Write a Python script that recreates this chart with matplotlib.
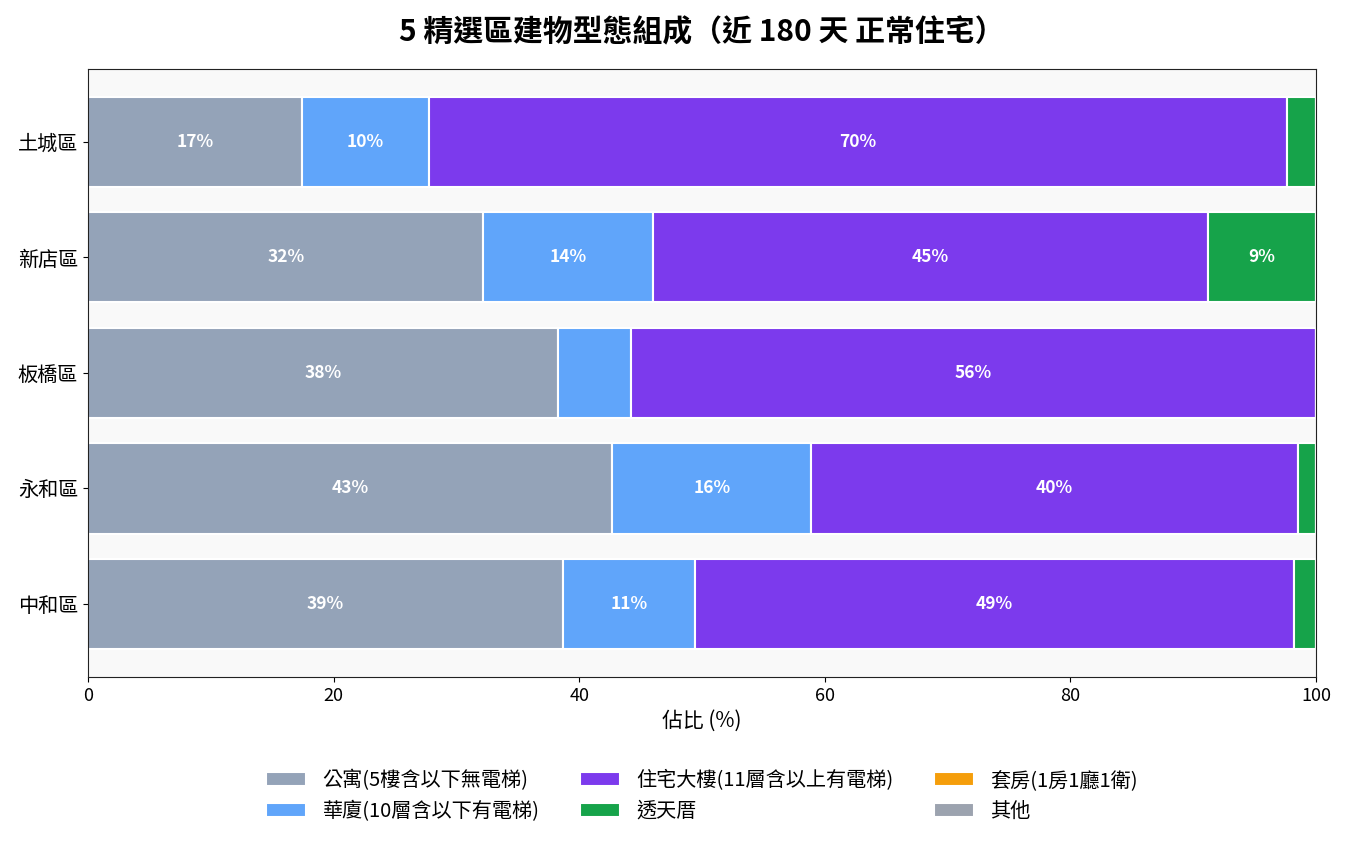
import matplotlib.pyplot as plt
import numpy as np

plt.rcParams['font.family'] = ['Noto Sans CJK TC', 'DejaVu Sans']

# --- 資料 ---
districts = ['中和區', '永和區', '板橋區', '新店區', '土城區']
types = ['公寓(5樓含以下無電梯)', '華廈(10層含以下有電梯)', '住宅大樓(11層含以上有電梯)',
         '透天厝', '套房(1房1廳1衛)', '其他']
colors = ['#94a3b8', '#60a5fa', '#7c3aed', '#16a34a', '#f59e0b', '#9ca3af']

apartment = [38.7, 42.7, 38.3, 32.2, 17.4]
mansion = [10.7, 16.2, 5.9, 13.8, 10.4]
tower = [48.8, 39.6, 55.8, 45.2, 69.8]
townhouse = [1.8, 1.5, 0.0, 8.8, 2.4]
suite = [0.0, 0.0, 0.0, 0.0, 0.0]
other = [0.0, 0.0, 0.0, 0.0, 0.0]

series = [apartment, mansion, tower, townhouse, suite, other]

# --- 그래프 ---
fig, ax = plt.subplots(figsize=(13.46, 8.46), dpi=100)
fig.subplots_adjust(left=0.0654, right=0.9777, top=0.9185, bottom=0.2)
ax.set_facecolor('#f9f9f9')

y = np.arange(len(districts))
left = np.zeros(len(districts))
for name, vals, c in zip(types, series, colors):
    vals = np.array(vals)
    bars = ax.barh(y, vals, left=left, height=0.78, color=c, edgecolor='white',
                   linewidth=1.5, label=name)
    for b, v in zip(bars, vals):
        if v >= 8:
            ax.text(b.get_x() + b.get_width() / 2, b.get_y() + b.get_height() / 2,
                    f'{v:.0f}%', ha='center', va='center', color='white',
                    fontsize=12.5, fontweight='bold')
    left += vals

ax.set_yticks(y)
ax.set_yticklabels(districts, fontsize=14.5)
ax.set_xlim(0, 100)
ax.tick_params(axis='x', labelsize=13)
ax.set_xlabel('佔比 (%)', fontsize=15)
ax.set_title('5 精選區建物型態組成（近 180 天 正常住宅）', fontsize=21.5,
             fontweight='bold', pad=20)
for s in ax.spines.values():
    s.set_color('#222222')

ax.legend(loc='upper center', bbox_to_anchor=(0.5, -0.123), ncol=3, frameon=False,
          fontsize=14.5)

fig.savefig('out.png', dpi=100)
